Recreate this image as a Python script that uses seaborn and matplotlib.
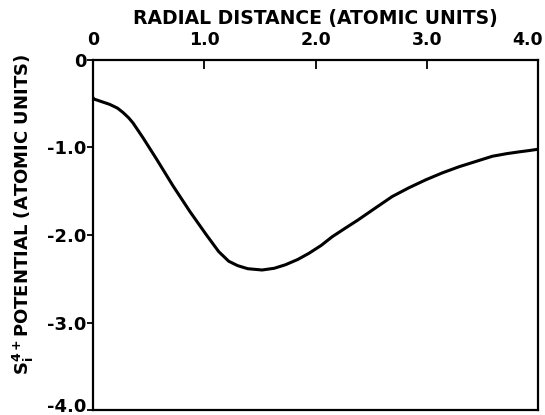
import matplotlib
matplotlib.use("Agg")
import matplotlib.pyplot as plt
import matplotlib.transforms as mtransforms
import seaborn as sns
import pandas as pd

# values
radius = [0.0, 0.01, 0.15, 0.22, 0.27, 0.32, 0.36, 0.45, 0.57, 0.72, 0.87,
          1.02, 1.13, 1.22, 1.30, 1.39, 1.52, 1.63, 1.73, 1.84, 1.94, 2.05,
          2.15, 2.27, 2.38, 2.54, 2.69, 2.84, 2.99, 3.14, 3.29, 3.44, 3.59,
          3.72, 3.83, 3.92, 4.0]
potential = [-0.43, -0.447, -0.507, -0.55, -0.60, -0.66, -0.72, -0.89,
             -1.13, -1.44, -1.73, -2.00, -2.19, -2.30, -2.35, -2.385, -2.40,
             -2.38, -2.34, -2.28, -2.21, -2.12, -2.02, -1.92, -1.83, -1.69,
             -1.56, -1.46, -1.37, -1.29, -1.22, -1.16, -1.10, -1.07, -1.05,
             -1.035, -1.02]

xticks = [0, 1, 2, 3, 4]
xticklabels = ["0", "1.0", "2.0", "3.0", "4.0"]
yticks = [0, -1, -2, -3, -4]
yticklabels = ["0", "-1.0", "-2.0", "-3.0", "-4.0"]

df = pd.DataFrame({"r": radius, "v": potential})

sns.set_style("ticks")
plt.rcParams["font.family"] = ["DejaVu Sans"]
plt.rcParams["font.weight"] = "bold"
plt.rcParams["text.color"] = "black"
plt.rcParams["axes.labelcolor"] = "black"
plt.rcParams["xtick.color"] = "black"
plt.rcParams["ytick.color"] = "black"
plt.rcParams["mathtext.fontset"] = "custom"
plt.rcParams["mathtext.rm"] = "DejaVu Sans:bold"
plt.rcParams["mathtext.it"] = "DejaVu Sans:bold"

fig = plt.figure(figsize=(5.45, 4.15), dpi=100)
ax = fig.add_axes([93 / 545, 1 - 410 / 415, (538 - 93) / 545, (410 - 60) / 415])

sns.lineplot(data=df, x="r", y="v", ax=ax, color="black", linewidth=2.2)

ax.set_xlim(0, 4)
ax.set_ylim(-4, 0)
ax.xaxis.tick_top()
ax.xaxis.set_label_position("top")
ax.set_xticks(xticks)
ax.set_xticklabels(xticklabels, fontweight="bold")
ax.set_yticks(yticks)
ax.set_yticklabels(yticklabels, fontweight="bold")
ax.tick_params(axis="x", direction="in", length=6.5, width=1.3, pad=8,
               labelsize=12.5, colors="black")
ax.tick_params(axis="y", direction="out", length=4, width=1.3, pad=0.5,
               labelsize=13, colors="black")
for s in ax.spines.values():
    s.set_visible(True)
    s.set_linewidth(1.6)
    s.set_color("black")

# pull the corner labels inside the picture, as in the original
last_x = ax.get_xticklabels()[-1]
last_x.set_transform(last_x.get_transform()
                     + mtransforms.ScaledTranslation(-10 / 100, 0, fig.dpi_scale_trans))
last_y = ax.get_yticklabels()[-1]
last_y.set_transform(last_y.get_transform()
                     + mtransforms.ScaledTranslation(0, 5 / 100, fig.dpi_scale_trans))

ax.set_xlabel("RADIAL DISTANCE (ATOMIC UNITS)", fontsize=13.5, fontweight="bold",
              labelpad=5)
ax.set_ylabel(r"$\mathregular{S_i^{4+}}$POTENTIAL (ATOMIC UNITS)", fontsize=13,
              fontweight="bold")
ax.yaxis.set_label_coords(-0.127, 0.56)

fig.savefig("out.png", dpi=100)
